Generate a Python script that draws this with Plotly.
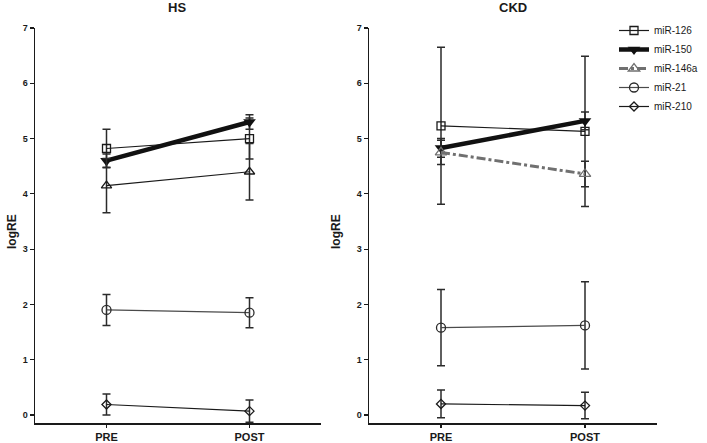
import plotly.graph_objects as go

categories = ["PRE", "POST"]
series_names = ["miR-126", "miR-150", "miR-146a", "miR-21", "miR-210"]

# HS group
hs_126 = [4.82, 5.00]
hs_126_err = [0.35, 0.37]
hs_150 = [4.60, 5.30]
hs_150_err = [0.12, 0.13]
hs_146a = [4.15, 4.40]
hs_146a_err = [0.49, 0.51]
hs_21 = [1.90, 1.85]
hs_21_err = [0.28, 0.27]
hs_210 = [0.19, 0.07]
hs_210_err = [0.19, 0.20]

# CKD group
ckd_126 = [5.23, 5.13]
ckd_126_err = [1.42, 1.36]
ckd_150 = [4.83, 5.32]
ckd_150_err = [0.17, 0.16]
ckd_146a = [4.75, 4.36]
ckd_146a_err = [0.22, 0.23]
ckd_21 = [1.58, 1.62]
ckd_21_err = [0.69, 0.79]
ckd_210 = [0.20, 0.17]
ckd_210_err = [0.25, 0.24]

yticks = [0, 1, 2, 3, 4, 5, 6, 7]

FONT = "Arial, Liberation Sans, sans-serif"
W, H = 707, 443
ML, MR, MT, MB = 0, 0, 28, 20
xpos = list(range(len(categories)))

styles = {
    "miR-126": dict(line=dict(color="#1a1a1a", width=1.2),
                    marker=dict(symbol="square-open", size=8, color="#1a1a1a", line=dict(width=1.3))),
    "miR-150": dict(line=dict(color="#111111", width=4.5),
                    marker=dict(symbol="triangle-down", size=11, color="#111111", line=dict(width=0))),
    "miR-146a_hs": dict(line=dict(color="#1a1a1a", width=1.2),
                        marker=dict(symbol="triangle-up-open", size=9, color="#1a1a1a", line=dict(width=1.3))),
    "miR-146a": dict(line=dict(color="#707070", width=3, dash="dashdot"),
                     marker=dict(symbol="triangle-up-open", size=10, color="#707070", line=dict(width=1.3))),
    "miR-21": dict(line=dict(color="#4a4a4a", width=1.2),
                   marker=dict(symbol="circle-open", size=9, color="#2a2a2a", line=dict(width=1.3))),
    "miR-210": dict(line=dict(color="#1a1a1a", width=1.2),
                    marker=dict(symbol="diamond-open", size=7, color="#1a1a1a", line=dict(width=1.3))),
}

fig = go.Figure()

hs_data = [("miR-126", hs_126, hs_126_err, "miR-126"),
           ("miR-150", hs_150, hs_150_err, "miR-150"),
           ("miR-146a", hs_146a, hs_146a_err, "miR-146a_hs"),
           ("miR-21", hs_21, hs_21_err, "miR-21"),
           ("miR-210", hs_210, hs_210_err, "miR-210")]
ckd_data = [("miR-126", ckd_126, ckd_126_err, "miR-126"),
            ("miR-150", ckd_150, ckd_150_err, "miR-150"),
            ("miR-146a", ckd_146a, ckd_146a_err, "miR-146a"),
            ("miR-21", ckd_21, ckd_21_err, "miR-21"),
            ("miR-210", ckd_210, ckd_210_err, "miR-210")]

def err(vals):
    return dict(type="data", array=vals, visible=True, color="#2b2b2b", thickness=1.5, width=4)

for name, vals, e, sk in hs_data:
    st = styles[sk]
    fig.add_trace(go.Scatter(x=xpos, y=vals, error_y=err(e), mode="lines+markers",
                             name=name, line=st["line"], marker=st["marker"],
                             showlegend=False, xaxis="x", yaxis="y"))
for name, vals, e, sk in ckd_data:
    st = styles[sk]
    fig.add_trace(go.Scatter(x=xpos, y=vals, error_y=err(e), mode="lines+markers",
                             name=name, line=st["line"], marker=st["marker"],
                             showlegend=True, xaxis="x2", yaxis="y2"))

def px_x(p):
    return p / W

plot_h = H - MT - MB
y_bottom_px = H - MB

def py(p):
    # pixel from top -> paper fraction
    return (y_bottom_px - p) / plot_h

common_x = dict(range=[-0.5, 1.5], tickmode="array", tickvals=xpos, ticktext=categories,
                showline=True, linecolor="#1a1a1a", linewidth=1.5, ticks="outside",
                ticklen=3, tickwidth=1.2, tickcolor="#1a1a1a", showgrid=False, zeroline=False,
                tickfont=dict(family=FONT, size=11, color="#1a1a1a", weight="bold"),
                fixedrange=True)
y_range = [-(y_bottom_px - 415) / 55.3, 7.0]
common_y = dict(range=y_range, tickmode="array", tickvals=yticks, ticktext=[str(t) for t in yticks],
                showline=True, linecolor="#1a1a1a", linewidth=1.5, ticks="outside",
                ticklen=4, tickwidth=1.2, tickcolor="#1a1a1a", showgrid=False, zeroline=False,
                tickfont=dict(family=FONT, size=9, color="#1a1a1a", weight="bold"),
                fixedrange=True)

fig.update_layout(
    width=W, height=H,
    margin=dict(l=ML, r=MR, t=MT, b=MB, pad=0),
    paper_bgcolor="white", plot_bgcolor="white",
    xaxis=dict(domain=[px_x(35), px_x(321)], anchor="y", **common_x),
    yaxis=dict(domain=[0, 1], anchor="x", **common_y),
    xaxis2=dict(domain=[px_x(369), px_x(657)], anchor="y2", **common_x),
    yaxis2=dict(domain=[0, 1], anchor="x2", **common_y),
    legend=dict(x=px_x(614), y=py(16), xanchor="left", yanchor="top",
                font=dict(family=FONT, size=10, color="#1a1a1a"),
                bgcolor="rgba(0,0,0,0)", tracegroupgap=0, itemwidth=30),
    showlegend=True,
    annotations=[
        dict(text="<b>HS</b>", x=px_x(177), y=py(8), xref="paper", yref="paper",
             showarrow=False, font=dict(family=FONT, size=13, color="#1a1a1a"), xanchor="center", yanchor="middle"),
        dict(text="<b>CKD</b>", x=px_x(513), y=py(8), xref="paper", yref="paper",
             showarrow=False, font=dict(family=FONT, size=13, color="#1a1a1a"), xanchor="center", yanchor="middle"),
        dict(text="<b>logRE</b>", x=px_x(12), y=py(232), xref="paper", yref="paper",
             showarrow=False, textangle=-90, font=dict(family=FONT, size=12, color="#1a1a1a"),
             xanchor="center", yanchor="middle"),
        dict(text="<b>logRE</b>", x=px_x(336), y=py(232), xref="paper", yref="paper",
             showarrow=False, textangle=-90, font=dict(family=FONT, size=12, color="#1a1a1a"),
             xanchor="center", yanchor="middle"),
    ],
)

fig.write_html("out.html", config={"displayModeBar": False, "staticPlot": True},
               post_script="document.body.style.margin='0px';document.body.style.overflow='hidden';")
